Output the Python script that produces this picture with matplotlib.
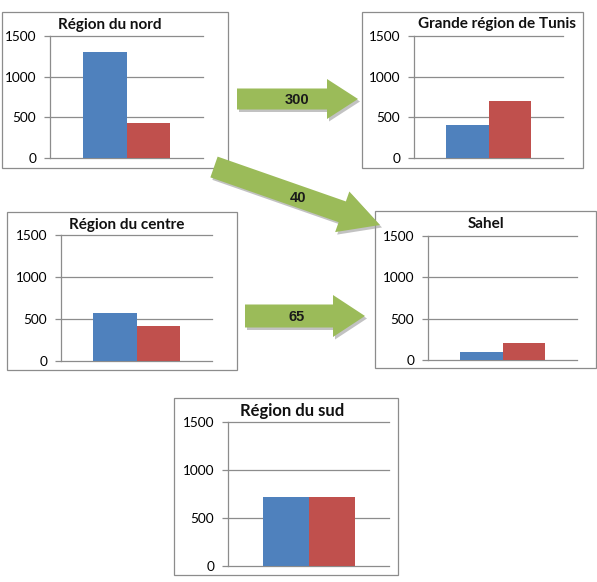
import matplotlib
matplotlib.use("Agg")
import matplotlib.pyplot as plt
from matplotlib.patches import Rectangle, FancyArrow

W, H = 597, 582

# ---- data ----
regions = ["Région du nord", "Grande région de Tunis", "Région du centre", "Sahel", "Région du sud"]
series_blue = [1300, 400, 575, 100, 720]
series_red = [430, 700, 420, 205, 720]
y_ticks = [0, 500, 1000, 1500]
flow_labels = ["300", "40", "65"]

BLUE = "#4F81BD"
RED = "#C0504D"
GRID = "#8C8C8C"
GREEN = "#9BBB59"

# layout in pixels: box (x0,y0,x1,y1), plot area (x0, y_top, x1, y_zero), title center, title size
layout = [
    dict(box=(2, 12, 228, 168), plot=(50, 36, 203, 158), title=(110, 25), tsize=11),
    dict(box=(362, 12, 583, 168), plot=(414, 36, 563, 158), title=(497, 24), tsize=11),
    dict(box=(7, 212, 237, 370), plot=(61, 235, 212, 361), title=(127, 225), tsize=11),
    dict(box=(375, 211, 596, 368), plot=(428, 236, 577, 360), title=(486, 224), tsize=11),
    dict(box=(174, 398, 398, 575), plot=(228, 422, 389, 566), title=(292, 411), tsize=12),
]

plt.rcParams['font.family'] = ['Lato', 'DejaVu Sans']
fig = plt.figure(figsize=(W / 100, H / 100), dpi=100)
fig.patch.set_facecolor("white")

for i, lay in enumerate(layout):
    bx0, by0, bx1, by1 = lay["box"]
    fig.add_artist(Rectangle((bx0 / W, 1 - by1 / H), (bx1 - bx0) / W, (by1 - by0) / H,
                             transform=fig.transFigure, facecolor="white",
                             edgecolor="#8C8C8C", lw=0.9, zorder=-5))
    px0, pyt, px1, pyz = lay["plot"]
    ax = fig.add_axes([px0 / W, 1 - pyz / H, (px1 - px0) / W, (pyz - pyt) / H])
    ax.set_facecolor("none")
    ax.bar([-0.5], [series_blue[i]], width=1.0, color=BLUE, zorder=3)
    ax.bar([0.5], [series_red[i]], width=1.0, color=RED, zorder=3)
    ax.set_xlim(-1.75, 1.75)
    ax.set_ylim(0, 1500)
    ax.set_yticks(y_ticks)
    ax.set_yticklabels([str(t) for t in y_ticks], fontsize=9.8)
    ax.set_xticks([])
    for t in y_ticks[1:]:
        ax.axhline(t, color=GRID, lw=0.9, zorder=1, clip_on=False)
    for s in ["top", "right"]:
        ax.spines[s].set_visible(False)
    for s in ["left", "bottom"]:
        ax.spines[s].set_color(GRID)
        ax.spines[s].set_linewidth(0.9)
    ax.tick_params(axis="y", length=4, width=0.9, color=GRID, pad=6)
    tx, ty = lay["title"]
    fig.text(tx / W, 1 - ty / H, regions[i], ha="center", va="center",
             fontsize=lay["tsize"], fontweight="bold", color="#111111")

# ---- arrows overlay ----
ov = fig.add_axes([0, 0, 1, 1], zorder=10)
ov.set_xlim(0, W)
ov.set_ylim(H, 0)
ov.axis("off")
ov.set_facecolor("none")

arrows = [
    dict(start=(237, 99), end=(358, 99), w=21, hw=40, hl=31, text=(297, 100)),
    dict(start=(214, 167), end=(380, 225), w=22, hw=43, hl=40, text=(298, 198)),
    dict(start=(245, 316), end=(365, 316), w=23, hw=42, hl=32, text=(297, 317)),
]
for a, lab in zip(arrows, flow_labels):
    (x0, y0), (x1, y1) = a["start"], a["end"]
    sh = FancyArrow(x0 + 2, y0 + 2.5, x1 - x0, y1 - y0, width=a["w"], head_width=a["hw"],
                    head_length=a["hl"], length_includes_head=True,
                    facecolor="#9a9a9a", edgecolor="none", alpha=0.6)
    ov.add_patch(sh)
    ar = FancyArrow(x0, y0, x1 - x0, y1 - y0, width=a["w"], head_width=a["hw"],
                    head_length=a["hl"], length_includes_head=True,
                    facecolor=GREEN, edgecolor="none")
    ov.add_patch(ar)
    ov.text(a["text"][0], a["text"][1], lab, ha="center", va="center",
            fontsize=10.5, fontweight="bold", color="#1a1a1a",
            family=['Liberation Sans', 'DejaVu Sans'])

fig.savefig("out.png", dpi=100)
